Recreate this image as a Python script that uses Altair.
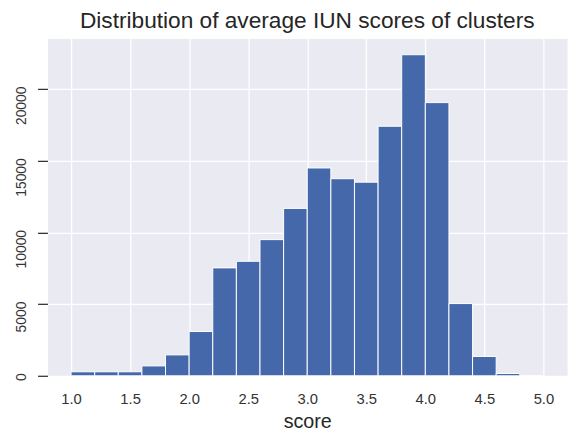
import altair as alt
import pandas as pd

# Histogram bins (bin start, bin end) and counts
bin_start = [1.0, 1.2, 1.4, 1.6, 1.8, 2.0, 2.2, 2.4, 2.6, 2.8,
             3.0, 3.2, 3.4, 3.6, 3.8, 4.0, 4.2, 4.4, 4.6, 4.8]
bin_end = [1.2, 1.4, 1.6, 1.8, 2.0, 2.2, 2.4, 2.6, 2.8, 3.0,
           3.2, 3.4, 3.6, 3.8, 4.0, 4.2, 4.4, 4.6, 4.8, 5.0]
counts = [280, 280, 280, 690, 1460, 3090, 7530, 7990, 9500, 11680,
          14500, 13750, 13510, 17410, 22400, 19060, 5040, 1350, 160, 10]

x_ticks = [1.0, 1.5, 2.0, 2.5, 3.0, 3.5, 4.0, 4.5, 5.0]
y_ticks = [0, 5000, 10000, 15000, 20000]

df = pd.DataFrame({"start": bin_start, "end": bin_end, "count": counts})

FONT = "Liberation Sans"

chart = (
    alt.Chart(df)
    .mark_rect(color="#4468a9", stroke="white", strokeWidth=1)
    .encode(
        x=alt.X(
            "start:Q",
            scale=alt.Scale(domain=[0.8, 5.2], nice=False, zero=False),
            axis=alt.Axis(
                values=x_ticks,
                format=".1f",
                title="score",
                grid=True,
                ticks=False,
                domain=False,
                labelPadding=16,
                labelFontSize=15,
                labelColor="#333333",
                labelFont=FONT,
                titleFont=FONT,
                titleFontSize=20,
                titleFontWeight="normal",
                titleColor="#262626",
                titleBaseline="alphabetic",
                titleY=52,
                gridColor="white",
                gridWidth=1.3,
            ),
        ),
        x2="end:Q",
        y=alt.Y(
            "count:Q",
            scale=alt.Scale(domain=[0, 23525], nice=False),
            axis=alt.Axis(
                values=y_ticks,
                format="d",
                title=None,
                grid=True,
                domain=False,
                ticks=True,
                tickSize=10,
                tickColor="#333333",
                tickWidth=1.3,
                labelAngle=270,
                labelAlign="right",
                labelBaseline="alphabetic",
                labelPadding=12,
                labelOffset=-3,
                labelFontSize=14,
                labelColor="#333333",
                labelFont=FONT,
                gridColor="white",
                gridWidth=1.3,
            ),
        ),
        y2=alt.datum(0),
    )
    .properties(
        width=527,
        height=342,
        title=alt.TitleParams(
            "Distribution of average IUN scores of clusters",
            font=FONT,
            fontSize=23,
            fontWeight="normal",
            color="#262626",
            anchor="middle",
            offset=6,
        ),
        autosize=alt.AutoSizeParams(type="none"),
        padding={"left": 40, "top": 28, "right": 3, "bottom": 58},
    )
    .configure(
        background="white",
        view=alt.ViewConfig(fill="#EAEAF2", stroke="transparent"),
    )
)

chart.save("out.html", embed_options={"renderer": "svg", "actions": False})
